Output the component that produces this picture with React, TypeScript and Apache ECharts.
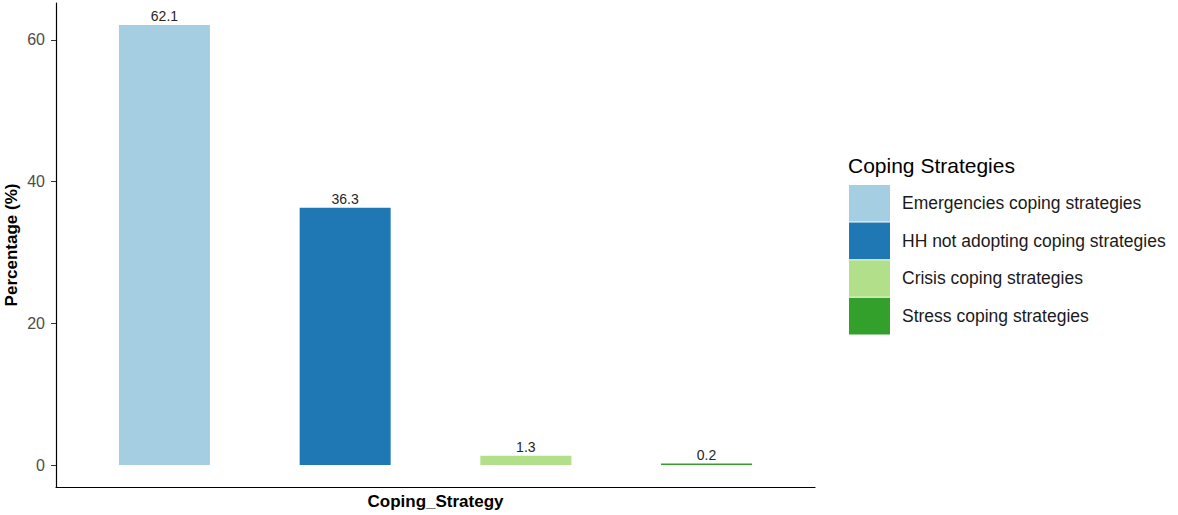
import React, { useEffect, useRef } from "react";
import * as echarts from "echarts";

const categories = [
  "Emergencies coping strategies",
  "HH not adopting coping strategies",
  "Crisis coping strategies",
  "Stress coping strategies",
];
const percentages = [62.1, 36.3, 1.3, 0.2];
const colors = ["#A6CEE3", "#1F78B4", "#B2DF8A", "#33A02C"];
const yTicks = [0, 20, 40, 60];
const yTitle = "Percentage (%)";
const xTitle = "Coping_Strategy";
const legendTitle = "Coping Strategies";

export default function App() {
  const ref = useRef<HTMLDivElement>(null);

  useEffect(() => {
    if (!ref.current) return;
    const chart = echarts.init(ref.current, null, { renderer: "svg" });
    const maxV = Math.max(...percentages);
    const pad = maxV * 0.05;
    const font = "Liberation Sans, Arial, sans-serif";

    const series = categories.map((name, i) => ({
      type: "bar",
      name,
      data: [[i + 1, percentages[i]]],
      barWidth: 91,
      barGap: "-100%",
      itemStyle: { color: colors[i] },
      label: {
        show: true,
        position: "top",
        distance: 2,
        fontSize: 14,
        fontFamily: font,
        color: "#262626",
        formatter: (p: any) => Number(p.value[1]).toFixed(1),
      },
    }));

    chart.setOption({
      animation: false,
      textStyle: { fontFamily: font },
      title: {
        text: legendTitle,
        left: 848,
        top: 155,
        padding: 0,
        textStyle: { fontSize: 21, fontWeight: "normal", color: "#000000", fontFamily: font },
      },
      legend: {
        orient: "vertical",
        left: 849,
        top: 185,
        padding: 0,
        itemWidth: 41,
        itemHeight: 36.6,
        itemGap: 1,
        icon: "rect",
        selectedMode: false,
        data: categories,
        textStyle: { fontSize: 17.5, color: "#1a1a1a", padding: [0, 0, 0, 7], fontFamily: font },
      },
      graphic: [
        {
          type: "text",
          x: 11,
          y: 245,
          rotation: Math.PI / 2,
          style: {
            text: yTitle,
            fontSize: 17,
            fontWeight: "bold",
            fill: "#000000",
            fontFamily: font,
            textAlign: "center",
            textVerticalAlign: "middle",
          },
        },
      ],
      grid: {
        left: 56,
        right: 363,
        top: 3,
        bottom: 28,
        containLabel: false,
        outerBoundsMode: "none",
      },
      xAxis: {
        type: "value",
        min: 0.4,
        max: 4.6,
        name: xTitle,
        nameLocation: "middle",
        nameGap: 6,
        nameTextStyle: { fontSize: 17, fontWeight: "bold", color: "#000000", fontFamily: font },
        axisLine: { show: true, onZero: false, lineStyle: { color: "#000000", width: 1.2 } },
        axisTick: { show: false },
        axisLabel: { show: false },
        splitLine: { show: false },
      },
      yAxis: {
        type: "value",
        min: -pad,
        max: maxV + pad,
        axisLine: { show: true, onZero: false, lineStyle: { color: "#000000", width: 1.2 } },
        axisTick: {
          show: true,
          length: 5,
          customValues: yTicks,
          lineStyle: { color: "#333333" },
        },
        axisLabel: {
          show: true,
          customValues: yTicks,
          margin: 11,
          fontSize: 16,
          color: "#4D4D4D",
          fontFamily: font,
        },
        splitLine: { show: false },
      },
      series,
    });

    return () => chart.dispose();
  }, []);

  return (
    <div
      ref={ref}
      style={{ position: "fixed", left: 0, top: 0, width: 1178, height: 515, background: "#ffffff" }}
    />
  );
}
